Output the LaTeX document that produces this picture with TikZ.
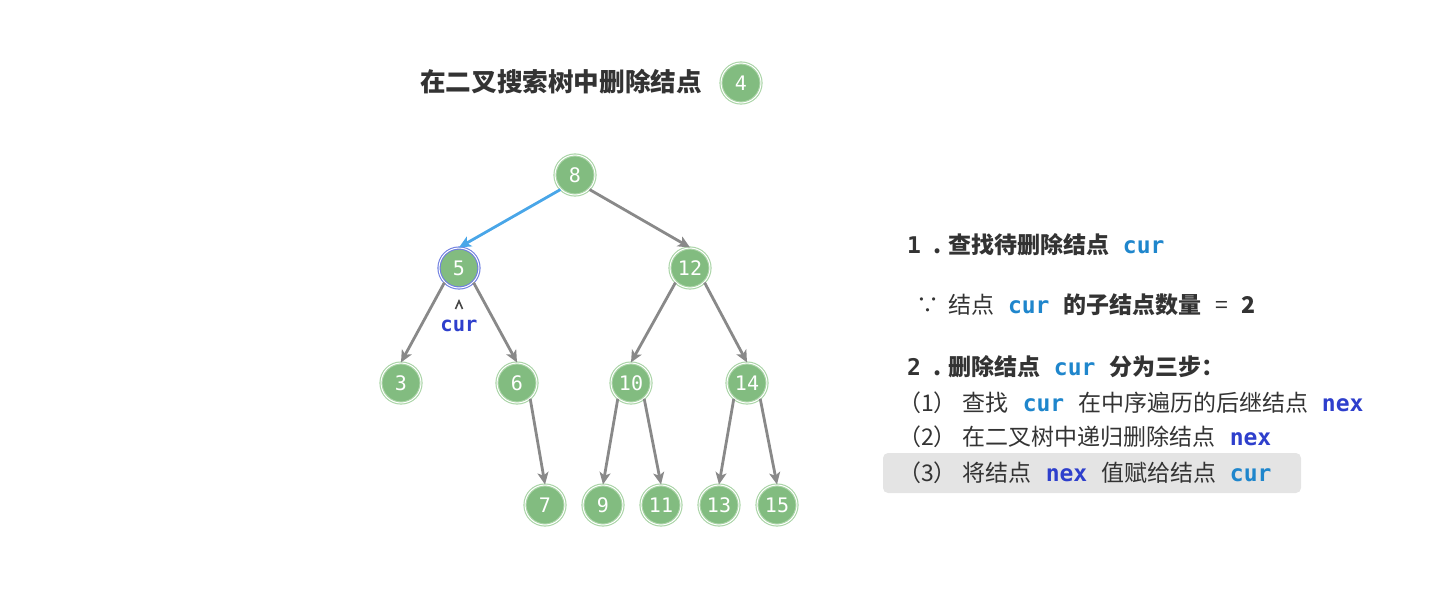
\documentclass[tikz,border=0pt]{standalone}
\usepackage{fontspec}
\setmainfont{Noto Sans CJK SC}
\setmonofont{DejaVu Sans Mono}
\usetikzlibrary{arrows.meta}

\definecolor{nodegreen}{HTML}{82BC80}
\definecolor{ringgreen}{HTML}{A9D4A6}
\definecolor{ringblue}{HTML}{6F7FE0}
\definecolor{edgegray}{HTML}{898989}
\definecolor{pathblue}{HTML}{49A6E8}
\definecolor{curblue}{HTML}{1F86CC}
\definecolor{nexblue}{HTML}{2E3FCC}
\definecolor{textdark}{HTML}{333333}
\definecolor{stepgray}{HTML}{E4E4E4}

\newcommand{\code}[2]{\hspace{0.6em}{\ttfamily\bfseries\color{#1}#2}\hspace{0.6em}}

\begin{document}
\begin{tikzpicture}[x=1pt,y=-1pt,>=Stealth,
  treenode/.style={circle,minimum size=40pt,inner sep=0pt,fill=nodegreen,
    draw=ringgreen,double=white,double distance=1pt,line width=1.1pt,
    text=white,font=\fontsize{20}{20}\selectfont\ttfamily},
  curnode/.style={treenode,draw=ringblue},
  edge/.style={draw=edgegray,line width=2.8pt,-{Stealth[length=12pt,width=11pt,inset=3pt]}},
  line/.style={anchor=west,inner sep=0pt,text=textdark,font=\fontsize{23}{23}\selectfont}]
  \useasboundingbox (0,0) rectangle (1451,598);

  % title
  \node[text=textdark,font=\fontsize{25.6}{25.6}\selectfont\bfseries] (title) at (561,82) {在二叉搜索树中删除结点};
  \node[treenode] (badge) at (741,83) {4};

  % tree
  \node[curnode] (n5) at (459,268) {5};
  \foreach \v/\x/\y in {8/575/175, 12/690/268,
      3/401/383, 6/517/383, 10/631/383, 14/747/383,
      7/545/505, 9/603/505, 11/661/505, 13/719/505, 15/777/505}
    \node[treenode] (n\v) at (\x,\y) {\v};

  \draw[edge,draw=pathblue] (n8.-135) -- (n5.north);
  \foreach \a/\b/\s in {8/12/-45, 5/3/-135, 5/6/-45, 12/10/-135, 12/14/-45,
      6/7/-50, 10/9/-130, 10/11/-50, 14/13/-130, 14/15/-50}
    \draw[edge] (n\a.\s) -- (n\b.north);

  % pointer to cur
  \node[text=nexblue,font=\fontsize{20.5}{20.5}\selectfont\ttfamily\bfseries] (curlabel) at (459,326) {cur};
  \draw[textdark!90,line width=1.6pt,line join=miter] (455.5,309) -- (459,301) -- (462.5,309);

  % steps
  \node[fill=stepgray,rounded corners=5pt,minimum width=418pt,minimum height=40pt] (stepbg) at (1092,473) {};
  \node[line,font=\fontsize{23}{23}\selectfont\bfseries] (s1) at (907,245) {{\ttfamily 1}\hspace{12pt}.\hspace{7pt}查找待删除结点\code{curblue}{cur}};
  \node[line] (s1a) at (916,305) {∵\hspace{9pt}结点\code{curblue}{cur}\textbf{的子结点数量}\hspace{0.6em}=\hspace{0.6em}\textbf{2}};
  \node[line,font=\fontsize{23}{23}\selectfont\bfseries] (s2) at (907,367) {{\ttfamily 2}\hspace{12pt}.\hspace{7pt}删除结点\code{curblue}{cur}分为三步：};
  \node[line] (s2a) at (898,403) {（1）\hspace{6pt}查找\code{curblue}{cur}在中序遍历的后继结点\code{nexblue}{nex}};
  \node[line] (s2b) at (898,437) {（2）\hspace{6pt}在二叉树中递归删除结点\code{nexblue}{nex}};
  \node[line] (s2c) at (898,473) {（3）\hspace{6pt}将结点\code{nexblue}{nex}值赋给结点\code{curblue}{cur}};
\end{tikzpicture}
\end{document}
